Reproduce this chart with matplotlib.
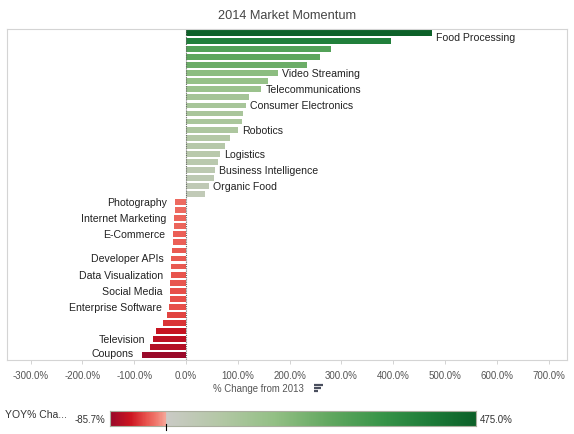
import numpy as np
import matplotlib
matplotlib.use("Agg")
import matplotlib.pyplot as plt
from matplotlib.colors import LinearSegmentedColormap, Normalize

plt.rcParams['font.family'] = ['Liberation Sans', 'DejaVu Sans']

# YOY % change from 2013, sorted descending (fraction, 1.0 = 100%)
values = [4.75, 3.95, 2.80, 2.59, 2.34, 1.78, 1.59, 1.45, 1.22, 1.16,
          1.10, 1.08, 1.01, 0.85, 0.75, 0.66, 0.62, 0.56, 0.54, 0.45,
          0.37,
          -0.21, -0.22, -0.23, -0.24, -0.25, -0.26, -0.27, -0.28, -0.28, -0.29,
          -0.30, -0.31, -0.31, -0.32, -0.37, -0.44, -0.58, -0.64, -0.70, -0.857]

# only the labels that are visible in the chart
labels = ["Food Processing", "", "", "", "", "Video Streaming", "", "Telecommunications", "",
          "Consumer Electronics", "", "", "Robotics", "", "", "Logistics", "",
          "Business Intelligence", "", "Organic Food", "",
          "Photography", "", "Internet Marketing", "", "E-Commerce", "", "", "Developer APIs", "",
          "Data Visualization", "", "Social Media", "", "Enterprise Software", "", "", "",
          "Television", "", "Coupons"]

xticks = [-3, -2, -1, 0, 1, 2, 3, 4, 5, 6, 7]

vmin, vmax = min(values), max(values)
z = (0 - vmin) / (vmax - vmin)
cmap = LinearSegmentedColormap.from_list("rg", [
    (0.0, "#9a0a2a"),
    (z * 0.35, "#cc1520"),
    (z * 0.62, "#e7504a"),
    (z * 0.80, "#f0766a"),
    (z * 0.999, "#f6aa9c"),
    (z, "#cbcbc6"),
    (0.30, "#b4c8a6"),
    (0.45, "#93c085"),
    (0.60, "#62a860"),
    (0.75, "#379448"),
    (0.88, "#1d7b38"),
    (1.0, "#0d6129"),
])
norm = Normalize(vmin, vmax)

fig = plt.figure(figsize=(5.74, 4.35), dpi=100)
ax = fig.add_axes([6.5 / 574, 1 - 361 / 435, (567 - 6.5) / 574, (361 - 29.5) / 435])

y = np.arange(len(values))
ax.barh(y, values, height=0.72, color=cmap(norm(values)))
ax.axvline(0, color="#666666", linestyle=(0, (1, 1)), linewidth=0.8)

n = len(values)
for i, (v, lab) in enumerate(zip(values, labels)):
    if not lab:
        continue
    dy = 0
    if i == 0:
        dy = -3
    elif i == n - 1:
        dy = 1.5
    if v >= 0:
        ax.annotate(lab, (v, i), xytext=(3, dy), textcoords="offset points",
                    ha="left", va="center", fontsize=7.6, color="#222222")
    else:
        ax.annotate(lab, (v, i), xytext=(-5.5, dy), textcoords="offset points",
                    ha="right", va="center", fontsize=7.6, color="#222222")

ax.set_xlim(-3.465, 7.355)
ax.set_ylim(n - 0.4, -0.55)
ax.set_yticks([])
ax.set_xticks(xticks)
ax.set_xticklabels([f"{t * 100:.1f}%" for t in xticks], fontsize=7, color="#555555")
ax.tick_params(axis="x", length=3, width=0.6, color="#cccccc", pad=4)
for s in ax.spines.values():
    s.set_color("#d4d4d4")
    s.set_linewidth(0.8)

fig.text(0.5, 1 - 16 / 435, "2014 Market Momentum", ha="center", va="center",
         fontsize=9.2, color="#444444")
fig.text(258 / 574, 1 - 389 / 435, "% Change from 2013", ha="center", va="center",
         fontsize=6.9, color="#555555")
# small sort icon next to the axis title
for k, w in enumerate([9, 6.5, 3.5]):
    fig.add_artist(plt.Line2D([314 / 574, (314 + w) / 574],
                              [1 - (385.5 + k * 3) / 435] * 2,
                              color="#4a4f5e", linewidth=1.6, solid_capstyle="butt"))

# color legend
cax = fig.add_axes([110 / 574, 1 - 427 / 435, 366 / 574, 15 / 435])
grad = np.linspace(vmin, vmax, 600).reshape(1, -1)
cax.imshow(grad, aspect="auto", cmap=cmap, norm=norm, extent=[vmin, vmax, 0, 1])
cax.set_xticks([])
cax.set_yticks([])
for s in cax.spines.values():
    s.set_color("#a9ae9e")
    s.set_linewidth(0.8)
fig.add_artist(plt.Line2D([166 / 574] * 2, [1 - 425 / 435, 1 - 431 / 435],
                          color="black", linewidth=0.8))
fig.text(5 / 574, 1 - 415 / 435, "YOY% Cha...", ha="left", va="center",
         fontsize=7.5, color="#333333")
fig.text(105 / 574, 1 - 420 / 435, f"{vmin * 100:.1f}%", ha="right", va="center",
         fontsize=7, color="#333333")
fig.text(480 / 574, 1 - 420 / 435, f"{vmax * 100:.1f}%", ha="left", va="center",
         fontsize=7, color="#333333")

fig.savefig("out.png", dpi=100)
